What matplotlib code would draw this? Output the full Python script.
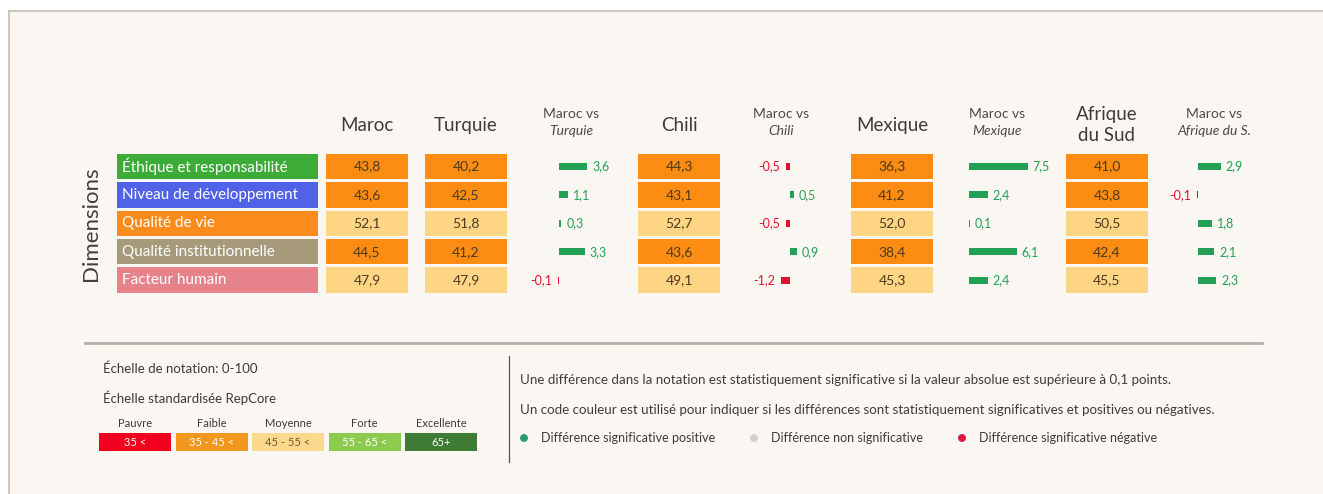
import matplotlib.pyplot as plt
from matplotlib.patches import Rectangle

plt.rcParams['font.family'] = ['Lato', 'DejaVu Sans']

# data
dimensions = ["Éthique et responsabilité", "Niveau de développement", "Qualité de vie",
              "Qualité institutionnelle", "Facteur humain"]
dimension_colors = ["#3dab38", "#4f62e8", "#fb8c1c", "#a69a7b", "#e6838a"]

countries = ["Maroc", "Turquie", "Chili", "Mexique", "Afrique\ndu Sud"]
maroc = [43.8, 43.6, 52.1, 44.5, 47.9]
turquie = [40.2, 42.5, 51.8, 41.2, 47.9]
chili = [44.3, 43.1, 52.7, 43.6, 49.1]
mexique = [36.3, 41.2, 52.0, 38.4, 45.3]
afrique_sud = [41.0, 43.8, 50.5, 42.4, 45.5]

diff_titles = [("Maroc vs", "Turquie"), ("Maroc vs", "Chili"),
               ("Maroc vs", "Mexique"), ("Maroc vs", "Afrique du S.")]
diff_turquie = [3.6, 1.1, 0.3, 3.3, -0.1]
diff_chili = [-0.5, 0.5, -0.5, 0.9, -1.2]
diff_mexique = [7.5, 2.4, 0.1, 6.1, 2.4]
diff_afrique = [2.9, -0.1, 1.8, 2.1, 2.3]

scale_names = ["Pauvre", "Faible", "Moyenne", "Forte", "Excellente"]
scale_ranges = ["35 <", "35 - 45 <", "45 - 55 <", "55 - 65 <", "65+"]
scale_colors = ["#f2001f", "#f0971c", "#fcd98c", "#8ccb4e", "#3e7b34"]

note_lines = [
    "Une différence dans la notation est statistiquement significative si la valeur absolue est supérieure à 0,1 points.",
    "Un code couleur est utilisé pour indiquer si les différences sont statistiquement significatives et positives ou négatives.",
]
marker_labels = ["Différence significative positive", "Différence non significative",
                 "Différence significative négative"]
marker_colors = ["#2a9d6c", "#d0d0cc", "#e0163c"]

# layout (pixels)
W, H = 1323, 494
ROW_Y0, PITCH = 166.5, 28.4
LABEL_X0, LABEL_W = 117, 201
CELL_W = 82
cell_left = [326, 425, 638, 851, 1066]
diff_origin = [559, 790, 969, 1198]
diff_center = [571, 781, 997, 1214]
PX_PER_PT = 7.8
POS, NEG = "#22a055", "#e3102e"


def fmt(v):
    return f"{v:.1f}".replace(".", ",")


def cell_color(v):
    return "#fc8c12" if v < 45 else "#fdd585"


fig = plt.figure(figsize=(W / 100, H / 100), dpi=100)
fig.patch.set_facecolor("white")

ax = fig.add_axes([0, 0, 1, 1])
ax.set_xlim(0, W)
ax.set_ylim(H, 0)
ax.axis("off")

ax.add_patch(Rectangle((9, 11), W, H, facecolor="#faf7f2", edgecolor="none"))
ax.plot([9, 9], [11, H], color="#c4bcae", lw=1.2)
ax.plot([9, W], [11, 11], color="#c4bcae", lw=1.2)

# table axes: x in pixels, y in row units
tab = fig.add_axes([0, 0, 1, 1])
tab.set_xlim(0, W)
tab.set_ylim((H - ROW_Y0) / PITCH, -ROW_Y0 / PITCH)
tab.axis("off")
tab.patch.set_alpha(0)

rows = list(range(len(dimensions)))

tab.barh(rows, LABEL_W, left=LABEL_X0, height=0.9, color=dimension_colors)
for r, name in zip(rows, dimensions):
    tab.text(LABEL_X0 + 5, r, name, color="white", fontsize=11, va="center", ha="left")

tab.text(91, 2, "Dimensions", rotation=90, fontsize=16, color="#404040", va="center", ha="center")

values = [maroc, turquie, chili, mexique, afrique_sud]
for x0, name, vals in zip(cell_left, countries, values):
    tab.barh(rows, CELL_W, left=x0, height=0.9, color=[cell_color(v) for v in vals])
    for r, v in zip(rows, vals):
        tab.text(x0 + CELL_W / 2, r, fmt(v), fontsize=10, color="#4a3a20", ha="center", va="center")
    ax.text(x0 + CELL_W / 2, 125, name, fontsize=13.5, color="#3c3c3c", ha="center", va="center",
            linespacing=1.25)

diffs = [diff_turquie, diff_chili, diff_mexique, diff_afrique]
for org, cx, (t1, t2), d in zip(diff_origin, diff_center, diff_titles, diffs):
    tab.barh(rows, [v * PX_PER_PT for v in d], left=org, height=0.25,
             color=[POS if v > 0 else NEG for v in d])
    for r, v in zip(rows, d):
        end = org + v * PX_PER_PT
        if v > 0:
            tab.text(end + 5, r, fmt(v), fontsize=9, color=POS, ha="left", va="center")
        else:
            tab.text(end - 6, r, fmt(v), fontsize=9, color=NEG, ha="right", va="center")
    ax.text(cx, 114, t1, fontsize=10, color="#4a4a4a", ha="center", va="center")
    ax.text(cx, 131, t2, fontsize=10, color="#4a4a4a", ha="center", va="center", style="italic")

# separators
ax.plot([85, 1262], [343, 343], color="#b5afa5", lw=2)
ax.plot([509, 509], [356, 462], color="#555555", lw=0.9)

# scale legend
ax.text(103, 369, "Échelle de notation: 0-100", fontsize=9.5, color="#3c3c3c", va="center")
ax.text(103, 398, "Échelle standardisée RepCore", fontsize=9.5, color="#3c3c3c", va="center")
scale_left = [99 + i * 76.5 for i in range(len(scale_names))]
ax.barh([442] * len(scale_names), 72, left=scale_left, height=18, color=scale_colors)
for x0, name, rng, c in zip(scale_left, scale_names, scale_ranges, scale_colors):
    ax.text(x0 + 36, 423, name, fontsize=8, color="#3c3c3c", ha="center", va="center")
    ax.text(x0 + 36, 442, rng, fontsize=8, color="white" if c != "#fcd98c" else "#6a5a30",
            ha="center", va="center")

# notes
for i, line in enumerate(note_lines):
    ax.text(520, 380 + i * 30, line, fontsize=9.6, color="#3c3c3c", va="center")
marker_x = [524, 754, 962]
ax.scatter(marker_x, [438] * 3, s=22, color=marker_colors, zorder=3)
for x, lab in zip(marker_x, marker_labels):
    ax.text(x + 17, 438, lab, fontsize=9, color="#3c3c3c", va="center")

fig.savefig("out.png", dpi=100, facecolor=fig.get_facecolor())
